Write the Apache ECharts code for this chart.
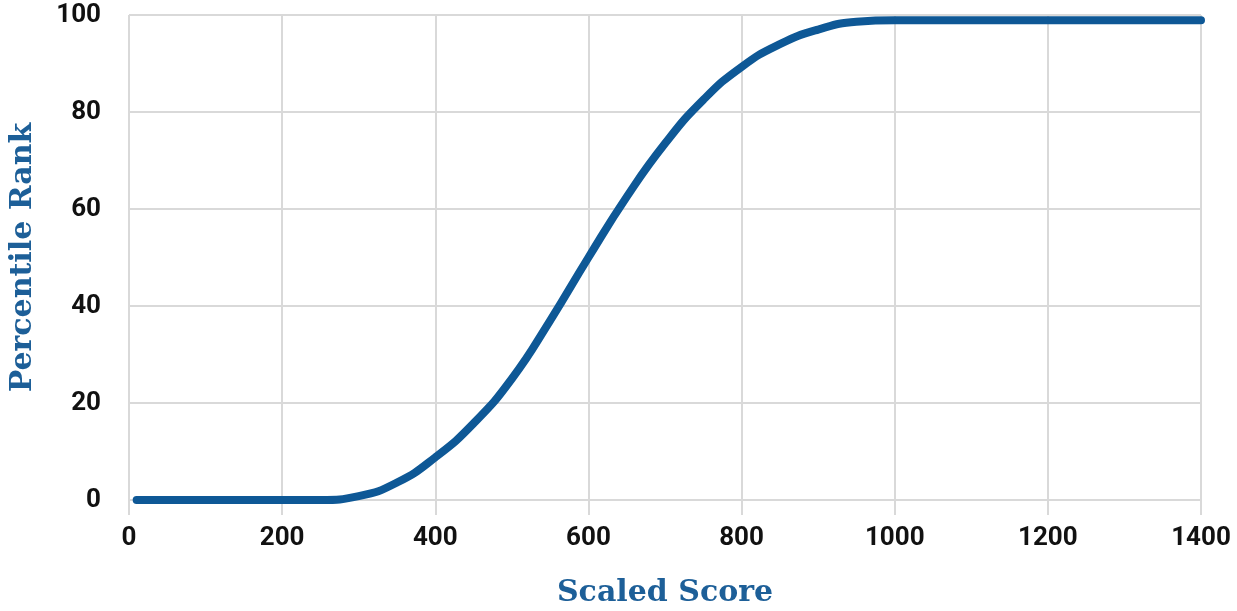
<!DOCTYPE html>
<html>
<head>
<meta charset="utf-8">
<script src="https://cdn.jsdelivr.net/npm/echarts@6/dist/echarts.min.js"></script>
<style>html,body{margin:0;padding:0;background:#fff}#c{width:1237px;height:611px}</style>
</head>
<body>
<div id="c"></div>
<script>
const scores = [10, 100, 200, 250, 300, 350, 400, 450, 500, 550, 600, 650, 700, 750, 800, 850, 900, 950, 1000, 1100, 1200, 1300, 1400];
const ranks  = [0, 0, 0, 0, 0.8, 3.6, 8.8, 15.8, 25, 37, 50, 62.5, 73.5, 82.5, 89.3, 94, 97, 98.6, 98.9, 98.9, 98.9, 98.9, 98.9];
const xTicks = [0, 200, 400, 600, 800, 1000, 1200, 1400];
const yTicks = [0, 20, 40, 60, 80, 100];

const chart = echarts.init(document.getElementById('c'));
const gridColor = '#d9d9d9';
chart.setOption({
  animation: false,
  grid: { left: 129, right: 36, top: 15, bottom: 111, outerBoundsMode: 'none', containLabel: false },
  xAxis: {
    type: 'value', min: xTicks[0], max: xTicks[xTicks.length - 1], interval: 200,
    name: 'Scaled Score', nameLocation: 'middle', nameGap: 78,
    nameTextStyle: { fontFamily: 'DejaVu Serif', fontWeight: 'bold', fontSize: 30, color: '#1d5f98' },
    axisLine: { show: false },
    axisTick: { show: true, length: 15, lineStyle: { color: gridColor, width: 2 } },
    axisLabel: { margin: 25, fontFamily: 'Roboto', fontWeight: 'bold', fontSize: 26, color: '#111', formatter: v => String(v) },
    splitLine: { show: true, lineStyle: { color: gridColor, width: 2 } }
  },
  yAxis: {
    type: 'value', min: yTicks[0], max: yTicks[yTicks.length - 1], interval: 20,
    name: 'Percentile Rank', nameLocation: 'middle', nameGap: 91, nameRotate: 90,
    nameTextStyle: { fontFamily: 'DejaVu Serif', fontWeight: 'bold', fontSize: 30, color: '#1d5f98' },
    axisLine: { show: false },
    axisTick: { show: false },
    axisLabel: { margin: 28, fontFamily: 'Roboto', fontWeight: 'bold', fontSize: 26, color: '#111', formatter: v => String(v) },
    splitLine: { show: true, lineStyle: { color: gridColor, width: 2 } }
  },
  series: [{
    type: 'line',
    data: scores.map((s, i) => [s, ranks[i]]),
    smooth: 0.5,
    showSymbol: false,
    lineStyle: { color: '#0e5896', width: 8, cap: 'round', join: 'round' }
  }]
});
</script>
</body>
</html>
